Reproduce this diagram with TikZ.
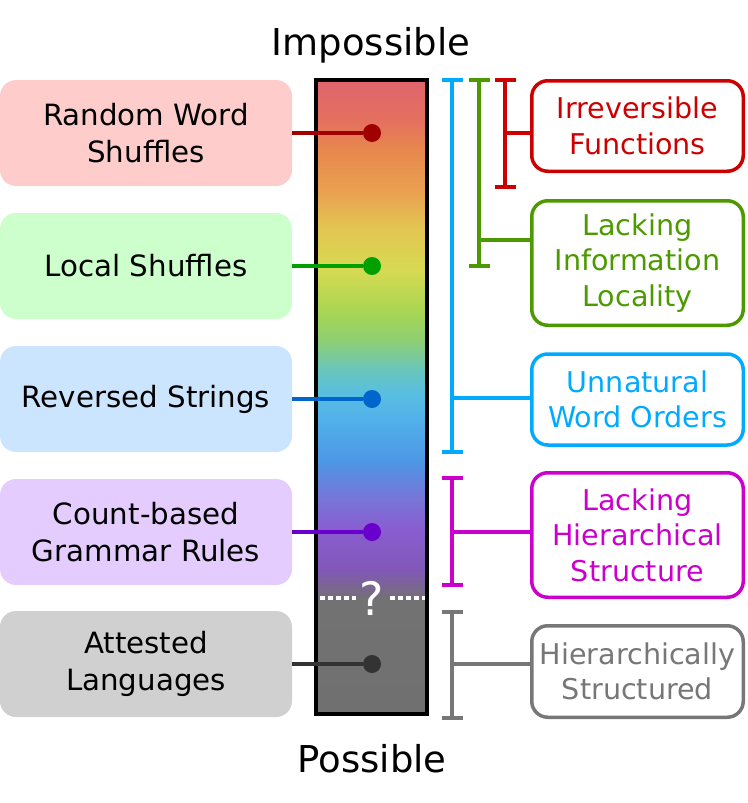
\documentclass[tikz,border=0pt]{standalone}
\usepackage{fontspec}
\setmainfont{DejaVu Sans}
\usetikzlibrary{positioning}

\definecolor{redD}{HTML}{A00000}
\definecolor{greenD}{HTML}{00A000}
\definecolor{blueD}{HTML}{0066CC}
\definecolor{purpleD}{HTML}{6A00CC}
\definecolor{grayD}{HTML}{333333}
\definecolor{redF}{HTML}{FFCCCC}
\definecolor{greenF}{HTML}{CCFFCC}
\definecolor{blueF}{HTML}{CCE5FF}
\definecolor{purpleF}{HTML}{E5CCFF}
\definecolor{grayF}{HTML}{D0D0D0}
\definecolor{redR}{HTML}{CC0000}
\definecolor{greenR}{HTML}{4D9A00}
\definecolor{cyanR}{HTML}{00AAFF}
\definecolor{magR}{HTML}{CC00CC}
\definecolor{grayR}{HTML}{777777}

% colours of the bar, bottom to top
\definecolor{sp0}{HTML}{707070}
\definecolor{sp1}{HTML}{727272}
\definecolor{sp2}{HTML}{7A6690}
\definecolor{sp3}{HTML}{8258B8}
\definecolor{sp4}{HTML}{8A5CD0}
\definecolor{sp5}{HTML}{7874D8}
\definecolor{sp6}{HTML}{4C98E6}
\definecolor{sp7}{HTML}{52B0EA}
\definecolor{sp8}{HTML}{58BEE2}
\definecolor{sp9}{HTML}{68C6BE}
\definecolor{sp10}{HTML}{8ECF72}
\definecolor{sp11}{HTML}{AAD652}
\definecolor{sp12}{HTML}{D6DA52}
\definecolor{sp13}{HTML}{E2C652}
\definecolor{sp14}{HTML}{EAA050}
\definecolor{sp15}{HTML}{E8874E}
\definecolor{sp16}{HTML}{E4705F}
\definecolor{sp17}{HTML}{E0646E}
\pgfdeclareverticalshading{spectrum}{100bp}{color(0bp)=(sp0); color(25bp)=(sp0);
  color(34bp)=(sp1); color(35bp)=(sp2); color(36.4bp)=(sp3); color(39.5bp)=(sp4);
  color(41.9bp)=(sp5); color(45bp)=(sp6); color(48.2bp)=(sp7); color(50.2bp)=(sp8);
  color(52.1bp)=(sp9); color(54.5bp)=(sp10); color(56.9bp)=(sp11); color(60bp)=(sp12);
  color(63.2bp)=(sp13); color(66.3bp)=(sp14); color(69.5bp)=(sp15); color(71.85bp)=(sp16);
  color(75bp)=(sp17); color(100bp)=(sp17)}

\begin{document}
\begin{tikzpicture}[x=1pt, y=-1pt,
  lbl/.style={font=\fontsize{29.3}{37}\selectfont, align=center},
  leftbox/.style={lbl, rounded corners=16pt, minimum width=292pt, minimum height=106pt, inner sep=0pt},
  rightbox/.style={lbl, draw=#1, text=#1, fill=white, line width=3.5pt, rounded corners=16pt,
    minimum width=211.5pt, inner sep=0pt},
  link/.style={line width=4.5pt, #1},
  brk/.style={line width=3.5pt, #1},
  dot/.style={circle, fill=#1, minimum size=18pt, inner sep=0pt}]
  \useasboundingbox (0,0) rectangle (747,803);

  % the bar
  \shade[shading=spectrum] (316,80) rectangle (427,714);
  \draw[white, line width=3.5pt, dash pattern=on 5pt off 3pt] (320,598) -- (356,598) (390,598) -- (426,598);
  \node[white, font=\fontsize{46}{46}\selectfont, inner sep=0pt] (unknown) at (372,598) {?};
  \draw[line width=4pt] (316,80) rectangle (427,714);
  \node[anchor=base, font=\fontsize{37}{37}\selectfont] (top) at (371,55) {Impossible};
  \node[anchor=base, font=\fontsize{37}{37}\selectfont] (bottom) at (372,772) {Possible};

  % left side
  \foreach \name/\y/\fc/\dc/\txt in {rand/133/redF/redD/{Random Word\\Shuffles},
      local/266/greenF/greenD/{Local Shuffles},
      rev/399/blueF/blueD/{Reversed Strings},
      count/532/purpleF/purpleD/{Count-based\\Grammar Rules},
      att/664/grayF/grayD/{Attested\\Languages}} {
    \node[leftbox, fill=\fc] (\name) at (146,\y) {\txt};
    \node[dot=\dc] (\name dot) at (372,\y) {};
    \draw[link=\dc] (\name) -- (\name dot);
  }

  % right side
  \foreach \name/\y/\h/\c/\x/\ya/\yb/\yt/\txt in {irrev/126/90.5/redR/505/80/187/133/{Irreversible\\Functions},
      infoloc/263/124.5/greenR/479/80/266/240/{Lacking\\Information\\Locality},
      unnat/399.5/91/cyanR/452/80/452/398/{Unnatural\\Word Orders},
      hier/535/124.5/magR/452/478/585/532/{Lacking\\Hierarchical\\Structure},
      struct/671.5/91.5/grayR/452/612/718/664/{Hierarchically\\Structured}} {
    \node[rightbox=\c, minimum height=\h pt, font=\fontsize{28.6}{35.5}\selectfont] (\name) at (637.5,\y) {\txt};
    \draw[brk=\c] (\x-10.5,\ya) -- (\x+10.5,\ya) (\x,\ya) -- (\x,\yb) (\x-10.5,\yb) -- (\x+10.5,\yb);
    \coordinate (\name tick) at (\x,\yt);
    \draw[brk=\c] (\name tick) -- (\name tick -| \name.west);
  }
\end{tikzpicture}
\end{document}
